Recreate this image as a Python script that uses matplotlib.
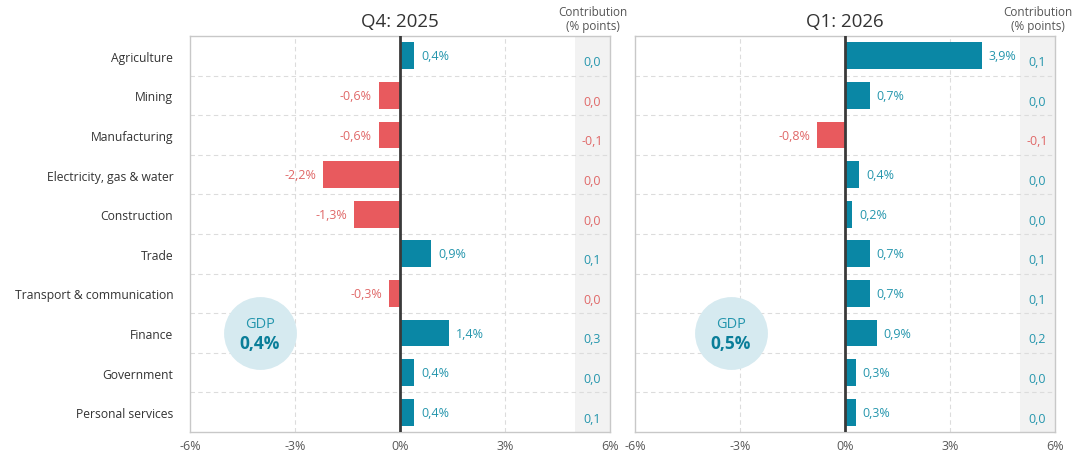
import matplotlib
matplotlib.use("Agg")
import matplotlib.pyplot as plt

plt.rcParams['font.family'] = ['Open Sans', 'DejaVu Sans']

sectors = ["Agriculture", "Mining", "Manufacturing", "Electricity, gas & water",
           "Construction", "Trade", "Transport & communication", "Finance",
           "Government", "Personal services"]

q4_growth = [0.4, -0.6, -0.6, -2.2, -1.3, 0.9, -0.3, 1.4, 0.4, 0.4]
q4_contrib = [0.0, 0.0, -0.1, 0.0, 0.0, 0.1, 0.0, 0.3, 0.0, 0.1]
q4_gdp = 0.4

q1_growth = [3.9, 0.7, -0.8, 0.4, 0.2, 0.7, 0.7, 0.9, 0.3, 0.3]
q1_contrib = [0.1, 0.0, -0.1, 0.0, 0.0, 0.1, 0.1, 0.2, 0.0, 0.0]
q1_gdp = 0.5

xticks = [-6, -3, 0, 3, 6]

POS = "#0a87a5"
NEG = "#e85a5e"
POS_TXT = "#2596ad"
NEG_TXT = "#e06868"


def comma(v, fmt):
    return fmt.format(v).replace(".", ",")


def draw_panel(ax, title, growth, contrib, gdp, gdp_x, show_labels):
    rows = list(range(len(growth)))
    ax.axvspan(5, 6, color="#f2f2f2", zorder=0, lw=0)
    for r in rows[:-1]:
        ax.axhline(r + 0.5, color="#dcdcdc", lw=0.8, ls=(0, (4, 3)), zorder=1)
    for x in (-3, 3):
        ax.axvline(x, color="#dcdcdc", lw=0.8, ls=(0, (4, 3)), zorder=1)

    colors = [POS if g >= 0 else NEG for g in growth]
    ax.barh(rows, growth, height=0.68, color=colors, zorder=2)
    ax.axvline(0, color="#3a3a3a", lw=2, zorder=3)

    for r, g, c in zip(rows, growth, contrib):
        tc = POS_TXT if g >= 0 else NEG_TXT
        if g >= 0:
            ax.text(g + 0.2, r, comma(g, "{:.1f}%"), ha="left", va="center",
                    fontsize=9, color=tc, zorder=4)
        else:
            ax.text(g - 0.2, r, comma(g, "{:.1f}%"), ha="right", va="center",
                    fontsize=9, color=tc, zorder=4)
        cs = comma(abs(c), "{:.1f}") if c == 0 else comma(c, "{:.1f}")
        ax.text(5.5, r + 0.15, cs, ha="center", va="center",
                fontsize=9, color=tc, zorder=4)

    ax.scatter([gdp_x], [7], s=2750, color="#d6eaf0", zorder=2, lw=0)
    ax.text(gdp_x, 6.75, "GDP", ha="center", va="center", fontsize=10.5,
            color="#2596ad", zorder=4)
    ax.text(gdp_x, 7.25, comma(gdp, "{:.1f}%"), ha="center", va="center",
            fontsize=12.5, fontweight="bold", color="#0a7e99", zorder=4)

    ax.set_xlim(-6, 6)
    ax.set_ylim(len(growth) - 0.5, -0.5)
    ax.set_xticks(xticks)
    ax.set_xticklabels([f"{t}%" for t in xticks])
    ax.set_yticks(rows)
    if show_labels:
        ax.set_yticklabels(sectors)
    else:
        ax.set_yticklabels([])
    ax.tick_params(axis="y", length=0, labelsize=8.7, colors="#333333", pad=12)
    ax.tick_params(axis="x", length=0, labelsize=9, colors="#595959", pad=5)
    for s in ax.spines.values():
        s.set_color("#c8c8c8")
        s.set_linewidth(1)

    ax.text(0.5, 1.015, title, transform=ax.transAxes, ha="center",
            va="bottom", fontsize=13.5, color="#333333")
    ax.text(5.5, -0.6, "Contribution\n(% points)", ha="center", va="bottom",
            fontsize=8.5, color="#555555", linespacing=1.1, clip_on=False)


fig = plt.figure(figsize=(10.8, 4.64), dpi=100)
ax1 = fig.add_axes([0.1759, 0.0668, 0.3889, 0.8534])
ax2 = fig.add_axes([0.5880, 0.0668, 0.3889, 0.8534])

draw_panel(ax1, "Q4: 2025", q4_growth, q4_contrib, q4_gdp, -4.0, True)
draw_panel(ax2, "Q1: 2026", q1_growth, q1_contrib, q1_gdp, -3.26, False)

fig.savefig("out.png", dpi=100)
